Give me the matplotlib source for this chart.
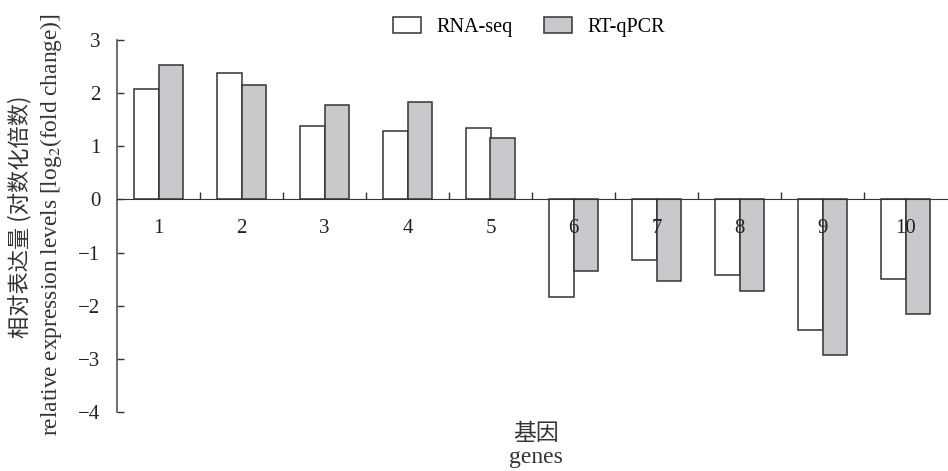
import matplotlib.pyplot as plt
import numpy as np

genes = ["1", "2", "3", "4", "5", "6", "7", "8", "9", "10"]
rna_seq = [2.07, 2.38, 1.38, 1.28, 1.35, -1.83, -1.14, -1.43, -2.45, -1.49]
rt_qpcr = [2.53, 2.15, 1.77, 1.84, 1.16, -1.34, -1.53, -1.73, -2.92, -2.15]
yticks = [3, 2, 1, 0, -1, -2, -3, -4]

plt.rcParams['font.family'] = ['Liberation Serif', 'Noto Sans CJK SC']
plt.rcParams['mathtext.fontset'] = 'stix'

fig = plt.figure(figsize=(9.48, 4.71), dpi=100)
ax = fig.add_axes([117/948, 1 - 412/471, (947 - 117)/948, (412 - 40)/471])

x = np.arange(len(genes))
w = 0.29
edge = '#333333'
ax.bar(x - w/2, rna_seq, w, color='white', edgecolor=edge, linewidth=1.1, label='RNA-seq')
ax.bar(x + w/2, rt_qpcr, w, color='#c9c9cb', edgecolor=edge, linewidth=1.1, label='RT-qPCR')

ax.set_xlim(-0.5, len(genes) - 0.5)
ax.set_ylim(-4, 3)
ax.set_yticks(yticks)
ax.set_yticklabels([str(t).replace('-', '\u2212') for t in yticks])

# category boundaries as ticks, labels centred in each slot
ax.set_xticks(np.arange(len(genes) - 1) + 0.5)
ax.set_xticklabels([])
ax.set_xticks(x, minor=True)
ax.set_xticklabels(genes, minor=True)
ax.tick_params(axis='x', which='major', direction='in', length=5, color=edge, width=1)
ax.tick_params(axis='x', which='minor', length=0, pad=14, labelsize=15, labelcolor='#222222')
ax.tick_params(axis='y', direction='in', length=5, color=edge, width=1, labelsize=15,
               labelcolor='#222222', pad=12)

ax.spines['top'].set_visible(False)
ax.spines['right'].set_visible(False)
ax.spines['bottom'].set_position(('data', 0))
ax.spines['bottom'].set_color(edge)
ax.spines['left'].set_color('#555555')
ax.spines['left'].set_linewidth(1.2)

cjk = ['Noto Sans CJK SC', 'Liberation Serif']
fig.text(20/948, 1 - 217/471, '相对表达量 (对数化倍数)', rotation=90, ha='center', va='center',
         fontsize=16, color='#333333', family=cjk)
fig.text(51/948, 1 - 225/471, 'relative expression levels [log$_2$(fold change)]', rotation=90,
         ha='center', va='center', fontsize=16.8, color='#333333')
fig.text(536/948, 1 - 433/471, '基因', ha='center', va='center', fontsize=16.5,
         color='#333333', family=cjk)
fig.text(536/948, 1 - 457/471, 'genes', ha='center', va='center', fontsize=17, color='#333333')

fig.legend(loc='center', bbox_to_anchor=(529/948, 1 - 27/471), ncol=2, frameon=False,
           fontsize=14.5, handlelength=1.4, handleheight=0.85, handletextpad=0.75,
           columnspacing=1.55)

fig.savefig('out.png', dpi=100)
